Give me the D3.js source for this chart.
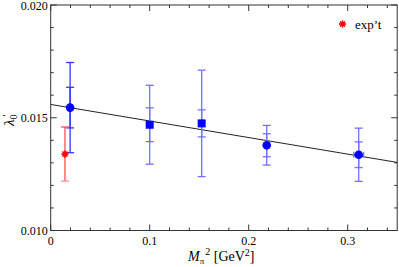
<!DOCTYPE html>
<html><head><meta charset="utf-8">
<script src="https://cdn.jsdelivr.net/npm/d3@7"></script>
<style>body{margin:0;background:#fff}svg{display:block}
svg text{font-family:"Times New Roman",Times,"Liberation Serif","DejaVu Serif",serif !important}</style>
</head><body>
<svg id="c" width="399" height="267"></svg>
<script>
// lattice points
const mpi2   = [0.0196, 0.1000, 0.1525, 0.2182, 0.3111];
const lam    = [0.01545, 0.01469, 0.01475, 0.01378, 0.01336];
const statE  = [0.0009, 0.00075, 0.0006, 0.00051, 0.00057];
const totE   = [0.0020, 0.00175, 0.00236, 0.00088, 0.00118];
const xErr   = [0, 0, 0, 0.002, 0.005];
const shapes = ["circle", "square", "square", "circle", "circle"];
// experiment
const expX = [0.0144], expY = [0.01339], expE = [0.0012];
// fit line endpoints
const fitX = [0, 0.35], fitY = [0.01559, 0.01302];
const xTicks = [0, 0.1, 0.2, 0.3];
const yTicks = [0.010, 0.015, 0.020];

const svg = d3.select("#c");
const L = 50.7, R = 397.2, T = 5, B = 230.5;
const x = d3.scaleLinear().domain([0, 0.35]).range([L, R]);
const y = d3.scaleLinear().domain([0.010, 0.020]).range([B, T]);

const g = svg.append("g");
g.append("rect").attr("x", L).attr("y", T).attr("width", R - L).attr("height", B - T)
  .attr("fill", "none").attr("stroke", "#333").attr("stroke-width", 1);

const xMinor = d3.range(0, 0.3501, 0.02);
const yMinor = d3.range(0.010, 0.02001, 0.001);
const tk = g.append("g").attr("stroke", "#333").attr("stroke-width", 1);
xMinor.forEach(v => {
  const major = xTicks.some(t => Math.abs(t - v) < 1e-9);
  const len = major ? 6 : 3;
  tk.append("line").attr("x1", x(v)).attr("x2", x(v)).attr("y1", B).attr("y2", B - len);
  tk.append("line").attr("x1", x(v)).attr("x2", x(v)).attr("y1", T).attr("y2", T + len);
});
yMinor.forEach(v => {
  const major = yTicks.some(t => Math.abs(t - v) < 1e-9);
  const len = major ? 6 : 3;
  tk.append("line").attr("y1", y(v)).attr("y2", y(v)).attr("x1", L).attr("x2", L + len);
  tk.append("line").attr("y1", y(v)).attr("y2", y(v)).attr("x1", R).attr("x2", R - len);
});
xTicks.forEach(v => {
  g.append("text").attr("x", x(v)).attr("y", B + 14).attr("text-anchor", "middle")
    .attr("font-size", 12).text(v === 0 ? "0" : d3.format(".1f")(v));
});
yTicks.forEach(v => {
  g.append("text").attr("x", L - 3).attr("y", Math.max(y(v) + 4, 10)).attr("text-anchor", "end")
    .attr("font-size", 12).text(d3.format(".3f")(v));
});

// axis titles
const xt = g.append("text").attr("x", 188).attr("y", 261).attr("font-size", 14);
xt.append("tspan").attr("font-style", "italic").text("M");
xt.append("tspan").attr("font-size", 9).attr("dy", 3).text("π");
xt.append("tspan").attr("font-size", 10).attr("dy", -9).attr("dx", 1).text("2");
xt.append("tspan").attr("dy", 6).text(" [GeV");
xt.append("tspan").attr("font-size", 10).attr("dy", -5).text("2");
xt.append("tspan").attr("dy", 5).text("]");

const yt = g.append("text").attr("transform", "translate(14,126) rotate(-90)").attr("font-size", 15);
yt.append("tspan").attr("font-style", "italic").text("λ");
yt.append("tspan").attr("font-size", 10).attr("dy", 3).text("0");
yt.append("tspan").attr("font-size", 11).attr("dy", -7).attr("dx", -2).text("′");

svg.append("clipPath").attr("id", "clip").append("rect")
  .attr("x", L).attr("y", T).attr("width", R - L).attr("height", B - T);
g.append("line").attr("clip-path", "url(#clip)")
  .attr("x1", x(fitX[0])).attr("y1", y(fitY[0])).attr("x2", x(fitX[1])).attr("y2", y(fitY[1]))
  .attr("stroke", "#222").attr("stroke-width", 1);

function vbar(cx, lo, hi, col, w) {
  g.append("line").attr("x1", cx).attr("x2", cx).attr("y1", y(lo)).attr("y2", y(hi))
    .attr("stroke", col).attr("stroke-width", 1.3);
  [lo, hi].forEach(v => g.append("line").attr("x1", cx - w).attr("x2", cx + w)
    .attr("y1", y(v)).attr("y2", y(v)).attr("stroke", col).attr("stroke-width", 1.3));
}
mpi2.forEach((mx, i) => {
  const col = i === 0 ? "#3535ff" : "#7272ff";
  const cx = x(mx);
  vbar(cx, lam[i] - totE[i], lam[i] + totE[i], col, 4);
  vbar(cx, lam[i] - statE[i], lam[i] + statE[i], col, 4);
  if (xErr[i] > 0) {
    const cy = y(lam[i]);
    g.append("line").attr("x1", x(mx - xErr[i])).attr("x2", x(mx + xErr[i])).attr("y1", cy).attr("y2", cy)
      .attr("stroke", col).attr("stroke-width", 1.3);
    [mx - xErr[i], mx + xErr[i]].forEach(v => g.append("line").attr("x1", x(v)).attr("x2", x(v))
      .attr("y1", cy - 3).attr("y2", cy + 3).attr("stroke", col).attr("stroke-width", 1.3));
  }
});
mpi2.forEach((mx, i) => {
  const cx = x(mx), cy = y(lam[i]);
  if (shapes[i] === "circle") {
    g.append("circle").attr("cx", cx).attr("cy", cy).attr("r", 4.3).attr("fill", "#0000ff");
  } else {
    g.append("rect").attr("x", cx - 4).attr("y", cy - 4).attr("width", 8).attr("height", 8).attr("fill", "#0000ff");
  }
});

function star(cx, cy, r) {
  const s = g.append("g").attr("stroke", "#ff0000").attr("stroke-width", 1.6);
  for (let k = 0; k < 4; k++) {
    const a = k * Math.PI / 4;
    s.append("line").attr("x1", cx - r * Math.cos(a)).attr("y1", cy - r * Math.sin(a))
      .attr("x2", cx + r * Math.cos(a)).attr("y2", cy + r * Math.sin(a));
  }
  g.append("circle").attr("cx", cx).attr("cy", cy).attr("r", 2).attr("fill", "#ff0000");
}
expX.forEach((ex, i) => {
  const cx = x(ex);
  g.append("line").attr("x1", cx).attr("x2", cx).attr("y1", y(expY[i] - expE[i])).attr("y2", y(expY[i] + expE[i]))
    .attr("stroke", "#ff5050").attr("stroke-width", 1.3);
  g.append("line").attr("x1", cx - 4).attr("x2", cx + 4).attr("y1", y(expY[i] + expE[i])).attr("y2", y(expY[i] + expE[i]))
    .attr("stroke", "#ff5050").attr("stroke-width", 1.3);
  g.append("line").attr("x1", cx - 4).attr("x2", cx + 4).attr("y1", y(expY[i] - expE[i])).attr("y2", y(expY[i] - expE[i]))
    .attr("stroke", "#ff9090").attr("stroke-width", 1.3);
  star(cx, y(expY[i]), 3.6);
});

star(342.5, 24, 3.6);
g.append("text").attr("x", 355).attr("y", 28.5).attr("font-size", 13).text("exp’t");
</script>
</body></html>
